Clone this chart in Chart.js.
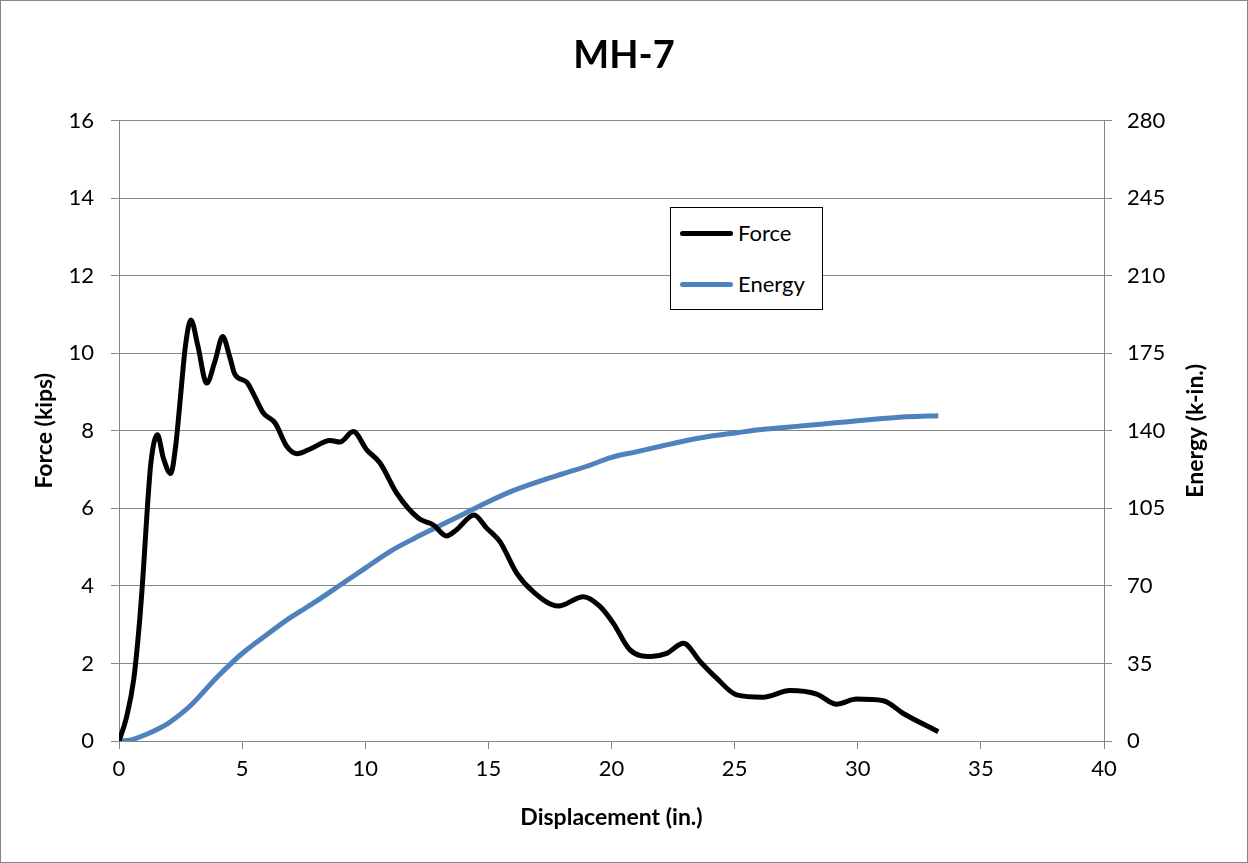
<!DOCTYPE html>
<html>
<head>
<meta charset="utf-8">
<script src="https://cdn.jsdelivr.net/npm/chart.js@4"></script>
<style>
  body { margin: 0; background: #fff; }
  #wrap { position: relative; width: 1248px; height: 863px; }
  #frame { position: absolute; left: 0; top: 0; width: 1248px; height: 863px; box-sizing: border-box; border: 1px solid #868686; pointer-events: none; }
  #legend { position: absolute; left: 670px; top: 207px; width: 153px; height: 103px; box-sizing: border-box; border: 1px solid #000; background: #fff; font-family: Lato, sans-serif; font-size: 22px; color: #000; }
  .item { position: absolute; left: 9px; height: 24px; line-height: 24px; }
  .item span.swatch { position: absolute; left: 0; top: 10px; width: 53px; height: 5px; border-radius: 3px; }
  .item span.lbl { position: absolute; left: 58px; top: 0; white-space: nowrap; }
</style>
</head>
<body>
<div id="wrap">
  <canvas id="chart" width="1248" height="863"></canvas>
  <div id="legend">
    <div class="item" style="top:13px"><span class="swatch" style="background:#000"></span><span class="lbl">Force</span></div>
    <div class="item" style="top:64px"><span class="swatch" style="background:#4f81bd"></span><span class="lbl">Energy</span></div>
  </div>
  <div id="frame"></div>
</div>
<script>
// displacement (in.) and force (kips)
const forceDisp = [0, 0.3, 0.6, 0.85, 1.0, 1.15, 1.3, 1.56, 1.8, 2.1, 2.3, 2.5, 2.7, 2.92, 3.2, 3.56, 3.9, 4.21, 4.5, 4.71,
  5.19, 5.5, 5.86, 6.34, 6.81, 7.22, 7.76, 8.57, 8.97, 9.51, 10.06, 10.6, 11.28, 12.15, 12.77, 13.3, 13.71, 14.42, 14.93,
  15.47, 16.15, 16.82, 17.84, 18.86, 19.53, 20.07, 20.75, 21.6, 22.24, 22.92, 23.6, 24.27, 25.08, 26.16, 27.25, 28.33,
  29.14, 29.95, 31.04, 31.85, 33.27];
const force = [0, 0.6, 1.6, 3.2, 4.5, 6.0, 7.2, 7.9, 7.3, 6.9, 7.6, 8.9, 10.2, 10.86, 10.2, 9.23, 9.8, 10.43, 9.9, 9.45,
  9.25, 8.9, 8.46, 8.2, 7.6, 7.41, 7.53, 7.75, 7.71, 7.98, 7.51, 7.17, 6.39, 5.75, 5.57, 5.29, 5.45, 5.83, 5.49,
  5.14, 4.33, 3.85, 3.48, 3.72, 3.47, 3.04, 2.35, 2.18, 2.26, 2.52, 2.05, 1.62, 1.19, 1.13, 1.30, 1.21,
  0.95, 1.08, 1.04, 0.71, 0.24];

// displacement (in.) and energy (k-in.)
const energyDisp = [0, 0.5, 1, 1.5, 2, 2.6, 3, 4, 5, 6, 7, 8, 9, 10, 11, 12, 13, 14, 15, 16, 17, 18, 19, 20,
  21, 22, 23, 24, 25, 26, 27, 28, 29, 30, 31, 32, 33.27];
const energy = [0, 0.5, 2.5, 5, 8, 13, 17, 29, 39.5, 48, 56, 63, 70.5, 78, 85.5, 91.5, 97, 102.5, 108, 113, 117, 120.5, 124, 128,
  130.5, 133, 135.5, 137.5, 139, 140.5, 141.5, 142.5, 143.5, 144.5, 145.5, 146.3, 146.8];

const xTicks = [0, 40, 5];
const forceTicks = [0, 16, 2];
const energyTicks = [0, 280, 35];

const gray = '#868686';
const fontFamily = 'Lato, sans-serif';

const toPoints = (xs, ys) => xs.map((x, i) => ({ x: x, y: ys[i] }));

// right axis title reads bottom-to-top, like the left one
const rightTitle = {
  id: 'rightTitle',
  afterDraw(chart) {
    const { ctx, chartArea } = chart;
    ctx.save();
    ctx.translate(1196, (chartArea.top + chartArea.bottom) / 2);
    ctx.rotate(-Math.PI / 2);
    ctx.font = 'bold 23px ' + fontFamily;
    ctx.fillStyle = '#000';
    ctx.textAlign = 'center';
    ctx.textBaseline = 'middle';
    ctx.fillText('Energy (k-in.)', 0, 0);
    ctx.restore();
  }
};

new Chart(document.getElementById('chart'), {
  type: 'line',
  data: {
    datasets: [{
      label: 'Force',
      data: toPoints(forceDisp, force),
      borderColor: '#000',
      borderWidth: 5,
      pointRadius: 0,
      cubicInterpolationMode: 'monotone',
      yAxisID: 'y'
    }, {
      label: 'Energy',
      data: toPoints(energyDisp, energy),
      borderColor: '#4f81bd',
      borderWidth: 5,
      pointRadius: 0,
      cubicInterpolationMode: 'monotone',
      yAxisID: 'y2'
    }]
  },
  options: {
    responsive: false,
    animation: false,
    devicePixelRatio: 1,
    layout: { padding: 0 },
    plugins: {
      legend: { display: false },
      tooltip: { enabled: false },
      title: {
        display: true,
        text: 'MH-7',
        color: '#000',
        font: { family: fontFamily, size: 38, weight: 'bold', lineHeight: 1.2 },
        padding: { top: 33, bottom: 42 }
      }
    },
    scales: {
      x: {
        type: 'linear',
        min: xTicks[0], max: xTicks[1],
        afterFit: s => { s.height = 122; },
        ticks: { stepSize: xTicks[2], color: '#000', font: { family: fontFamily, size: 22 }, padding: 7, maxRotation: 0 },
        grid: { drawOnChartArea: false, color: gray, tickLength: 8 },
        border: { color: gray },
        title: { display: true, text: 'Displacement (in.)', color: '#000', font: { family: fontFamily, size: 23, weight: 'bold', lineHeight: 1.2 }, padding: { bottom: 32 } }
      },
      y: {
        position: 'left',
        min: forceTicks[0], max: forceTicks[1],
        afterFit: s => { s.width = 119; },
        ticks: { stepSize: forceTicks[2], color: '#000', font: { family: fontFamily, size: 22 }, padding: 17 },
        grid: { color: gray, tickLength: 8 },
        border: { color: gray },
        title: { display: true, text: 'Force (kips)', color: '#000', font: { family: fontFamily, size: 23, weight: 'bold', lineHeight: 1.2 }, padding: { top: 31 } }
      },
      y2: {
        position: 'right',
        min: energyTicks[0], max: energyTicks[1],
        afterFit: s => { s.width = 144; },
        ticks: { stepSize: energyTicks[2], color: '#000', font: { family: fontFamily, size: 22 }, padding: 15 },
        grid: { drawOnChartArea: false, color: gray, tickLength: 8 },
        border: { color: gray }
      }
    }
  },
  plugins: [rightTitle]
});
</script>
</body>
</html>
